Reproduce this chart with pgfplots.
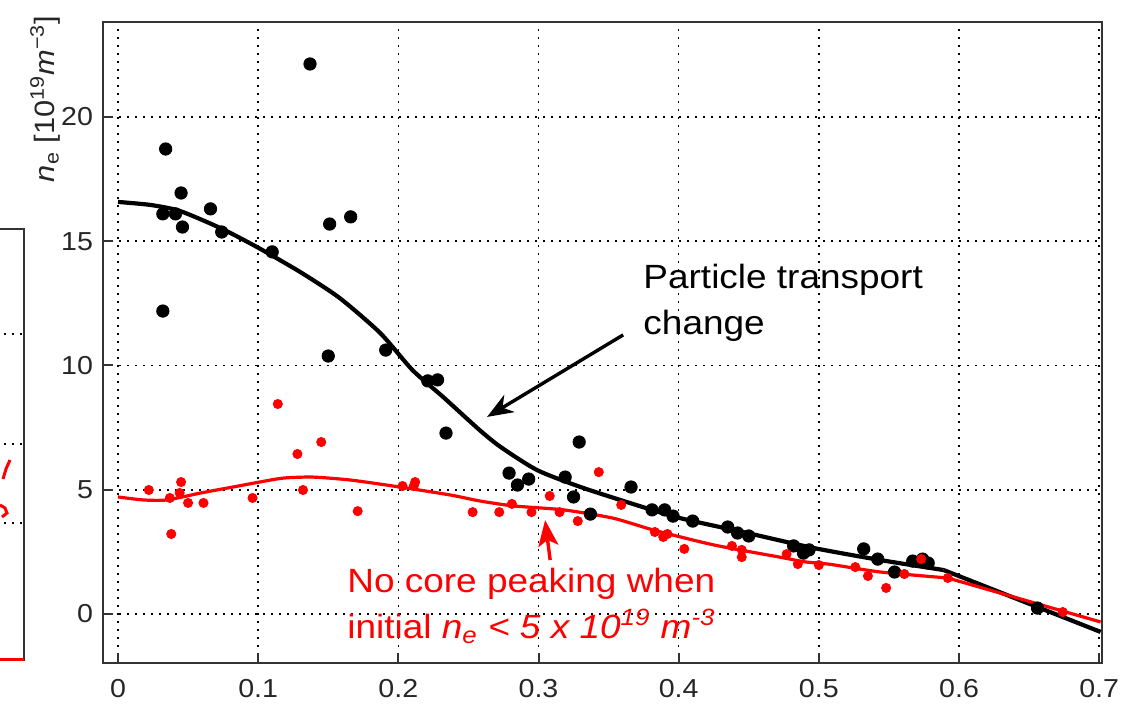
\documentclass[border=0pt]{standalone}
\usepackage{fontspec}
\setmainfont{Liberation Sans}[FakeStretch=1.1]
\usepackage{pgfplots}
\pgfplotsset{compat=1.18}
\usetikzlibrary{arrows.meta}
\definecolor{frame}{HTML}{333333}
\begin{document}
\begin{tikzpicture}
\pgfplotsset{
  mygrid/.style={grid style={black, line width=0.8pt, dash pattern=on 0.8pt off 3.2pt}},
}
% left fragment of neighbouring panel
\begin{axis}[at={(-39.5pt,1.5pt)}, anchor=south east, scale only axis,
  width=30pt, height=215.5pt, xmin=0, xmax=60, ymin=0, ymax=431,
  xtick=\empty, ytick={137,216,326}, yticklabels={}, ymajorgrids, mygrid,
  major tick length=0pt,
  axis line style={line width=1pt, color=frame}, clip=false]
\addplot[red, line width=1.5pt] coordinates {(0,0) (60,0)};
\addplot[red, line width=1.5pt] coordinates {(46,200) (42,191) (39,181)};
\addplot[red, line width=1.5pt] coordinates {(36,155) (41,152) (43,147) (38,143)};
\end{axis}
% main panel
\begin{axis}[at={(0,0)}, anchor=south west, scale only axis,
  width=499.5pt, height=320.5pt,
  xmin=-0.0107, xmax=0.702, ymin=-1.97, ymax=23.82,
  xtick={0,0.1,0.2,0.3,0.4,0.5,0.6,0.7},
  xticklabels={0,0.1,0.2,0.3,0.4,0.5,0.6,0.7},
  ytick={0,5,10,15,20},
  grid=major, mygrid,
  axis line style={line width=1pt, color=frame},
  tick style={line width=1pt, color=frame},
  major tick length=5pt, tick align=inside,
  xtick pos=bottom, ytick pos=left,
  ticklabel style={font=\fontsize{13}{15}\selectfont, text=black!85},
  xticklabel style={yshift=-4.5pt},
  yticklabel style={xshift=-1.5pt},
  /pgf/number format/assume math mode=true,
  clip=false]
% black fit line
\addplot[black, line width=2.1pt, smooth, tension=0.4] coordinates {
(0,16.58) (0.023,16.46) (0.044,16.22) (0.073,15.53) (0.099,14.77)
(0.130,13.76) (0.158,12.72) (0.187,11.31) (0.210,9.82) (0.232,8.73)
(0.258,7.40) (0.273,6.72) (0.299,5.79) (0.330,5.11) (0.365,4.47)
(0.401,3.86) (0.449,3.26) (0.496,2.66) (0.544,2.17) (0.589,1.77)};
\addplot[black, line width=2.1pt] coordinates {(0.589,1.77) (0.701,-0.72)};
% red fit line
\addplot[red, line width=1.6pt, smooth, tension=0.4] coordinates {
(0,4.71) (0.018,4.59) (0.035,4.59) (0.059,4.87) (0.082,5.11)
(0.101,5.31) (0.118,5.47) (0.139,5.51) (0.166,5.39) (0.201,5.11)
(0.237,4.79) (0.258,4.55) (0.282,4.35) (0.318,4.19) (0.353,3.86)
(0.382,3.38) (0.425,2.78) (0.472,2.29) (0.490,2.10) (0.508,2.00)
(0.544,1.69) (0.592,1.45)};
\addplot[red, line width=1.6pt] coordinates {(0.592,1.45) (0.701,-0.32)};
% black data
\addplot[only marks, mark=*, mark size=3.1pt, black] coordinates {
(0.032,16.10) (0.034,18.71) (0.041,16.10) (0.045,16.94) (0.046,15.57)
(0.032,12.19) (0.066,16.30) (0.074,15.37) (0.110,14.57) (0.137,22.13)
(0.151,15.69) (0.166,15.98) (0.150,10.38) (0.191,10.62) (0.221,9.38)
(0.228,9.42) (0.234,7.28) (0.279,5.67) (0.285,5.19) (0.293,5.43)
(0.329,6.92) (0.319,5.51) (0.325,4.71) (0.337,4.02) (0.366,5.11)
(0.381,4.19) (0.390,4.19) (0.396,3.94) (0.410,3.74) (0.435,3.50)
(0.442,3.26) (0.450,3.14) (0.482,2.74) (0.489,2.45) (0.493,2.58)
(0.532,2.62) (0.542,2.21) (0.554,1.69) (0.567,2.13) (0.574,2.21)
(0.578,2.05) (0.656,0.24)};
% red data
\addplot[only marks, mark=*, mark size=2.3pt, red] coordinates {
(0.022,4.99) (0.037,4.67) (0.045,5.31) (0.044,4.87) (0.050,4.47)
(0.038,3.22) (0.061,4.47) (0.096,4.67) (0.114,8.45) (0.128,6.44)
(0.145,6.92) (0.132,4.99) (0.171,4.14) (0.203,5.15) (0.212,5.31)
(0.211,5.15) (0.253,4.10) (0.272,4.10) (0.281,4.43) (0.295,4.10)
(0.308,4.75) (0.315,4.10) (0.328,3.74) (0.343,5.71) (0.359,4.39)
(0.383,3.30) (0.389,3.10) (0.392,3.22) (0.404,2.62) (0.438,2.74)
(0.445,2.58) (0.445,2.29) (0.477,2.41) (0.485,2.01) (0.500,1.97)
(0.526,1.89) (0.535,1.53) (0.548,1.05) (0.561,1.61) (0.573,2.21)
(0.592,1.45) (0.674,0.08)};
% annotations
\draw[black, line width=1.7pt, -{Stealth[length=13pt, width=10pt, inset=4pt]}]
  (axis cs:0.3604,11.23) -- (axis cs:0.2633,7.93);
\draw[red, line width=1.7pt, -{Stealth[length=13pt, width=10pt, inset=3pt]}]
  (axis cs:0.3083,2.17) -- (axis cs:0.3047,3.78);
\node[anchor=base west, inner sep=0pt, font=\fontsize{16.8}{19}\selectfont]
  at (axis cs:0.3746,13.08) {Particle transport};
\node[anchor=base west, inner sep=0pt, font=\fontsize{16.8}{19}\selectfont]
  at (axis cs:0.3746,11.23) {change};
\node[anchor=base west, inner sep=0pt, text=red, font=\fontsize{16.8}{19}\selectfont]
  at (axis cs:0.1634,0.885) {No core peaking when};
\node[anchor=base west, inner sep=0pt, text=red, font=\fontsize{16.8}{19}\selectfont]
  at (axis cs:0.1634,-0.966) {initial \textit{n\textsubscript{e} < 5 x 10\textsuperscript{19} m\textsuperscript{-3}}};
\node[rotate=90, inner sep=0pt, text=black!85, font=\fontsize{14}{16}\selectfont]
  at (rel axis cs:-0.058,0.88) {\textit{n}\textsubscript{e} [10\textsuperscript{19}\textit{m}\textsuperscript{−3}]};
\end{axis}
\pgfresetboundingbox
\path[use as bounding box] (-51.5pt,-21pt) rectangle (510.5pt,331.5pt);
\end{tikzpicture}
\end{document}
